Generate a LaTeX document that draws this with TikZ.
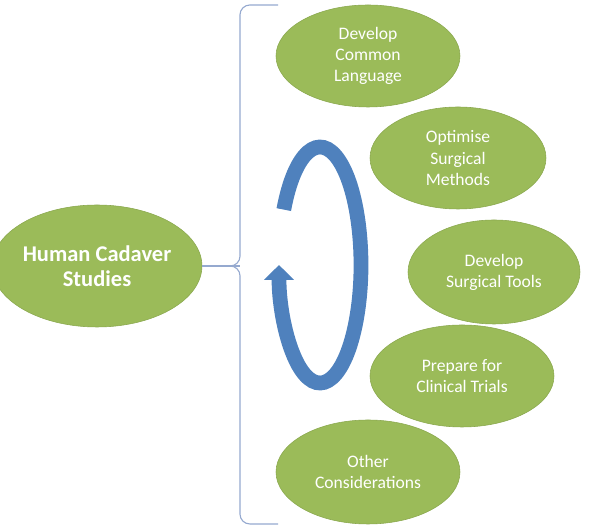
\documentclass[tikz,border=0pt]{standalone}
\usepackage{fontspec}
\setmainfont{Carlito}
\usepackage{tikz}
\usetikzlibrary{arrows.meta,shapes.geometric}

\definecolor{leafgreen}{HTML}{9BBB59}
\definecolor{leafline}{HTML}{8AA84E}
\definecolor{cycleblue}{HTML}{4F81BD}
\definecolor{braceblue}{HTML}{95A9CF}

\begin{document}
\begin{tikzpicture}[
    topic/.style={ellipse, draw=leafline, fill=leafgreen, text=white, align=center,
      minimum width=4.6cm, minimum height=2.55cm, inner sep=0pt,
      font=\fontsize{12.5}{15}\selectfont},
    hub/.style={topic, minimum width=4.8cm, minimum height=3.05cm,
      font=\fontsize{16}{18}\selectfont\bfseries},
    bracket/.style={draw=braceblue, line width=0.8pt, rounded corners=7pt},
    cycle/.style={draw=cycleblue, line width=10.5pt,
      -{Triangle[width=20.5pt, length=10.5pt]}}]
  \useasboundingbox (0,0) rectangle (15,13.225);

  % Central topic
  \node[hub] (hcs) at (2.425,6.575) {Human Cadaver\\Studies};

  % Topics on the right
  \node[topic] (dcl) at (9.2,11.825) {Develop\\Common\\Language};
  \node[topic, minimum width=4.4cm] (osm) at (11.45,9.275) {Optimise\\Surgical\\Methods};
  \node[topic, minimum width=4.3cm, minimum height=2.6cm] (dst) at (12.35,6.425) {Develop\\Surgical Tools};
  \node[topic] (pct) at (11.55,3.825) {Prepare for\\Clinical Trials};
  \node[topic, minimum height=2.6cm] (oc) at (9.2,1.425) {Other\\Considerations};

  % Brace
  \coordinate (btop) at (6.95,13.1);
  \coordinate (bbot) at (6.95,0.125);
  \coordinate (bmid) at (6.0,6.575);
  \draw[bracket] (btop) -- (6.0,13.1) -- (6.0,6.575) -- (5.05,6.575);
  \draw[bracket] (bbot) -- (6.0,0.125) -- (6.0,6.575) -- (5.8,6.575);
  \draw[bracket] (hcs.east) -- (bmid);

  % Cycle arrow
  \coordinate (cyc) at (8.0,6.6);
  \draw[cycle] ([shift={(152:1.025cm and 2.95cm)}]cyc)
    arc[start angle=152, end angle=-180, x radius=1.025cm, y radius=2.95cm];
\end{tikzpicture}
\end{document}
